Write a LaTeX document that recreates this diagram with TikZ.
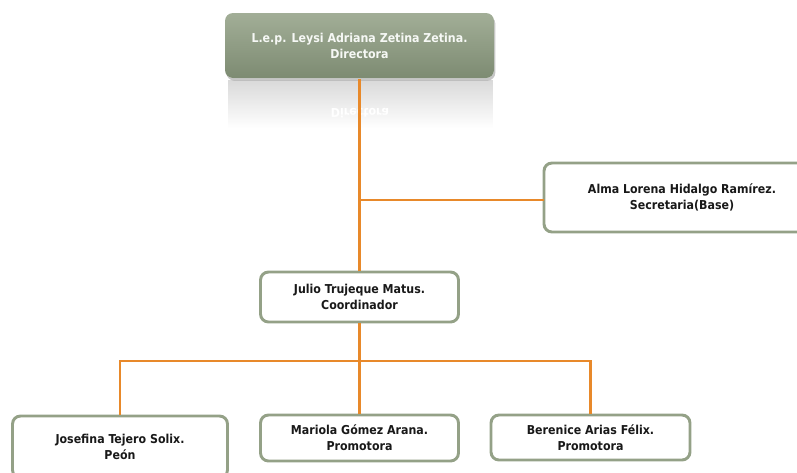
\documentclass[tikz,border=0pt]{standalone}
\usepackage{fontspec}
\setmainfont{DejaVu Sans Condensed}
\usepackage{xcolor}
\usetikzlibrary{positioning,shadows,fadings}

\definecolor{boxgreen}{HTML}{94A187}
\definecolor{linkorange}{HTML}{E8892A}
\definecolor{dirtop}{HTML}{A2AE97}
\definecolor{dirbottom}{HTML}{7D8B72}

\begin{document}
\begin{tikzpicture}[x=0.75pt,y=-0.75pt,thick]

  \useasboundingbox (0,0) rectangle (797,472);
  \clip (0,0) rectangle (797,472);

   
  \tikzstyle{member}=[draw=boxgreen,line width=2.2pt,rounded corners=6pt,fill=white,align=center,
    font=\bfseries\fontsize{9.2}{12}\selectfont,text=black!90]
  \tikzstyle{head}=[member,draw=none,top color=dirtop,bottom color=dirbottom,text=white!92!boxgreen,
    drop shadow={opacity=0.45,shadow xshift=1pt,shadow yshift=-2pt}]
  \tikzstyle{link}=[draw=linkorange,line width=2.2pt]

   
  \fill[black!15,path fading=south] (228,80) rectangle (493,128);
  \node[font=\bfseries\fontsize{9.2}{12}\selectfont,text=white,yscale=-1] at (360,113) {Directora};

   
  \node[head,minimum width=201.75pt,minimum height=48.75pt] (dir) at (359.5,45.5)
    {L.e.p. Leysi Adriana Zetina Zetina.\\Directora};
  \node[member,minimum width=207pt,minimum height=51.75pt] (sec) at (682,197.5)
    {Alma Lorena Hidalgo Ramírez.\\Secretaria(Base)};
  \node[member,minimum width=148.5pt,minimum height=37.5pt] (coord) at (359.5,297)
    {Julio Trujeque Matus.\\Coordinador};
  \node[member,minimum width=161.25pt,minimum height=46.5pt] (jos) at (120,447)
    {Josefina Tejero Solix.\\Peón};
  \node[member,minimum width=148.5pt,minimum height=34.5pt] (mar) at (359.5,438)
    {Mariola Gómez Arana.\\Promotora};
  \node[member,minimum width=149.25pt,minimum height=33.75pt] (ber) at (590.5,437.5)
    {Berenice Arias Félix.\\Promotora};

   
  \coordinate (bar) at (359.5,361);
  \coordinate (side) at (544,200);

   
  \draw[link] (dir.south) -- (coord.north);
  \draw[link] (side) -- (side -| dir.south);
  \draw[link] (coord.south) -- (bar);
  \draw[link] (bar) -| (jos.north);
  \draw[link] (bar) -| (ber.north);
  \draw[link] (bar) -- (mar.north);

\end{tikzpicture}
\end{document}
